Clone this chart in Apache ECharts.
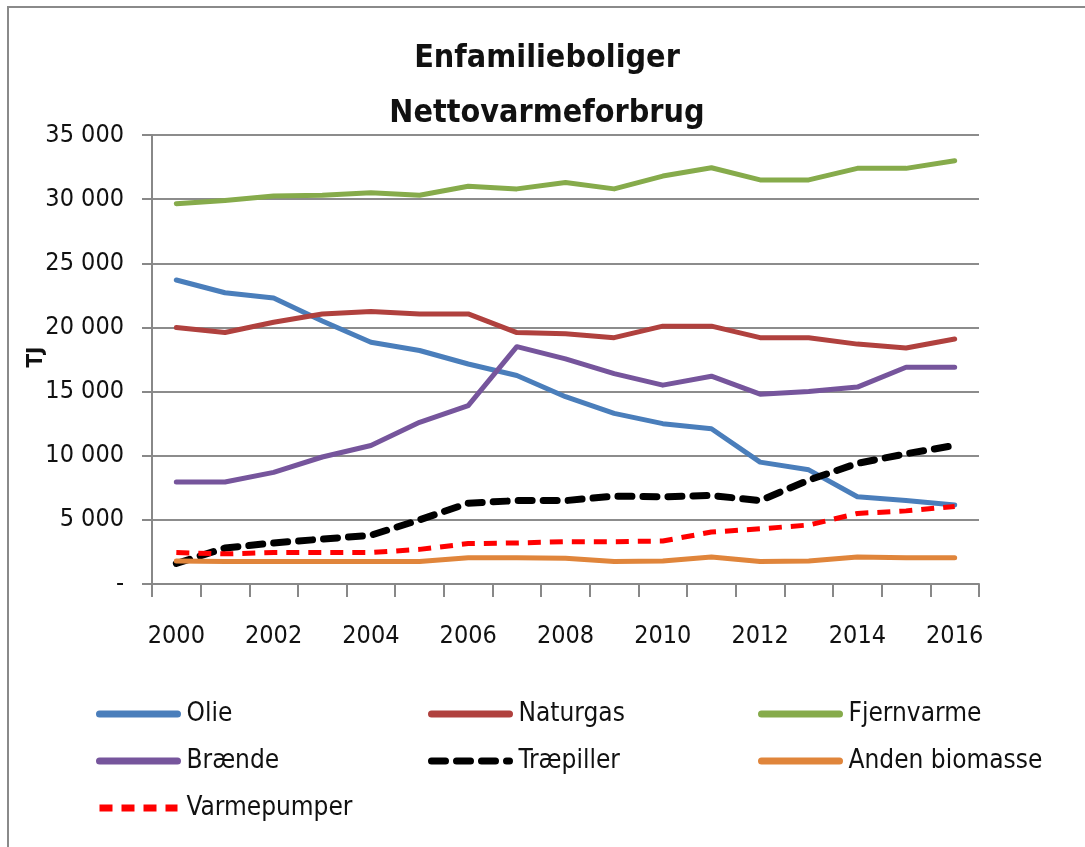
<!DOCTYPE html>
<html><head><meta charset="utf-8">
<script src="https://cdn.jsdelivr.net/npm/echarts@6/dist/echarts.min.js"></script>
<style>html,body{margin:0;padding:0;background:#fff}#c{width:1085px;height:847px}</style>
</head><body><div id="c"></div>
<script>
const years = ['2000','2001','2002','2003','2004','2005','2006','2007','2008','2009','2010','2011','2012','2013','2014','2015','2016'];
const olie = [23700,22700,22300,20500,18850,18200,17150,16250,14600,13300,12500,12100,9500,8900,6800,6500,6150];
const naturgas = [20000,19600,20400,21050,21250,21050,21050,19600,19500,19200,20100,20100,19200,19200,18700,18400,19100];
const fjernvarme = [29650,29900,30250,30300,30500,30300,31000,30800,31300,30800,31800,32450,31500,31500,32400,32400,33000];
const braende = [7950,7950,8700,9900,10800,12600,13900,18500,17550,16400,15500,16200,14800,15000,15350,16900,16900];
const traepiller = [1600,2800,3200,3500,3800,5000,6300,6500,6500,6850,6800,6900,6500,8100,9400,10150,10800];
const andenBiomasse = [1800,1750,1750,1750,1750,1750,2050,2050,2000,1750,1800,2100,1750,1800,2100,2050,2050];
const varmepumper = [2450,2350,2450,2450,2450,2700,3150,3200,3300,3300,3350,4050,4300,4600,5500,5700,6050];
const yAxisName = 'TJ';

const FONT = '"DejaVu Sans Condensed","Liberation Sans",Arial,sans-serif';
const chart = echarts.init(document.getElementById('c'));
function fmt(v){ if(v===0) return '-'; return String(v).replace(/\B(?=(\d{3})+(?!\d))/g,' '); }
function line(name, data, color, width, type, cap){
  return {name, type:'line', data, symbol:'none', showSymbol:false, smooth:false,
    lineStyle:{color, width, type: type||'solid', cap: cap||'round', join:'round'},
    itemStyle:{color}, z: 3};
}
const legendBase = {orient:'vertical', padding:0, itemWidth:78, itemHeight:14, itemGap:21,
  itemStyle:{opacity:0, borderWidth:0},
  lineStyle:{width:7},
  textStyle:{fontFamily:FONT, fontSize:26, color:'#111', padding:[0,0,0,4]}};
chart.setOption({
  animation:false,
  textStyle:{fontFamily:FONT},
  graphic:[
    {type:'rect', shape:{x:8,y:7,width:1090,height:860}, style:{fill:'none', stroke:'#8a8a8a', lineWidth:2}},
    {type:'text', x:36, y:357, rotation:Math.PI/2,
      style:{text:yAxisName, align:'center', verticalAlign:'middle', fill:'#111',
        font:'bold 22px "DejaVu Sans Condensed","Liberation Sans",Arial,sans-serif'}}
  ],
  title:{text:'Enfamilieboliger\nNettovarmeforbrug', left:542, textAlign:'center', top:26,
    textStyle:{fontFamily:FONT, fontWeight:'bold', fontSize:32, lineHeight:55, color:'#111'}},
  grid:{left:152, right:106, top:135, bottom:263},
  legend:[
    Object.assign({}, legendBase, {left:96, top:701, data:['Olie','Brænde','Varmepumper']}),
    Object.assign({}, legendBase, {left:428, top:701, data:['Naturgas','Træpiller']}),
    Object.assign({}, legendBase, {left:758, top:701, data:['Fjernvarme','Anden biomasse']})
  ],
  xAxis:{type:'category', data:years, boundaryGap:true,
    axisLine:{lineStyle:{color:'#888', width:2}},
    axisTick:{show:true, interval:0, length:13, lineStyle:{color:'#888', width:2}},
    axisLabel:{interval:1, fontFamily:FONT, fontSize:25, color:'#111', margin:40}},
  yAxis:{type:'value', min:0, max:35000, interval:5000,
    axisLine:{show:true, lineStyle:{color:'#888', width:2}},
    axisTick:{show:true, length:10, lineStyle:{color:'#888', width:2}},
    splitLine:{lineStyle:{color:'#8c8c8c', width:2}},
    axisLabel:{formatter:fmt, fontFamily:FONT, fontSize:25, color:'#111', margin:28}},
  series:[
    line('Olie', olie, '#4a7ebb', 5),
    line('Naturgas', naturgas, '#b0413e', 5),
    line('Fjernvarme', fjernvarme, '#86ab4b', 5),
    line('Brænde', braende, '#76559c', 5),
    line('Træpiller', traepiller, '#000000', 7, [14,11], 'round'),
    line('Anden biomasse', andenBiomasse, '#e0853b', 5),
    line('Varmepumper', varmepumper, '#ff0000', 5, [13,9], 'butt')
  ]
});
</script></body></html>
